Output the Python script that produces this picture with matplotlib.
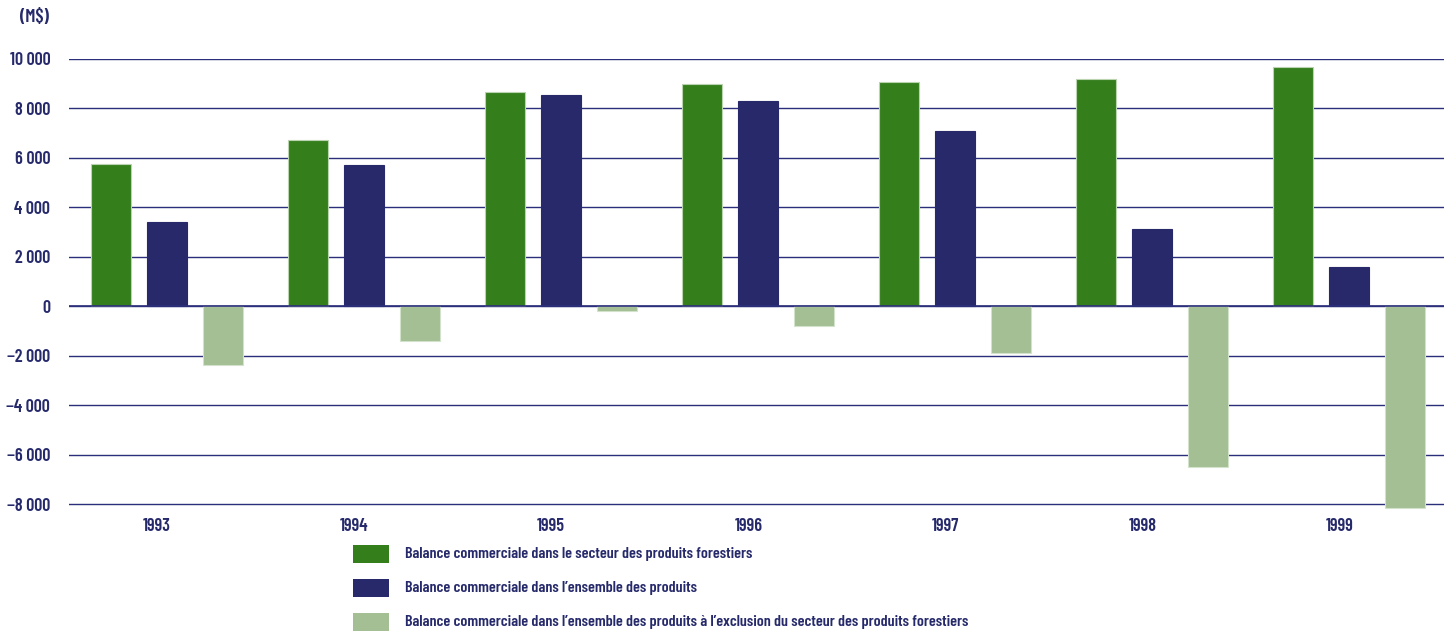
import matplotlib
matplotlib.use("Agg")
import matplotlib.pyplot as plt
from matplotlib.patches import Rectangle
import numpy as np

years = ["1993", "1994", "1995", "1996", "1997", "1998", "1999"]
forest = [5750, 6700, 8650, 8950, 9070, 9170, 9640]
total = [3400, 5700, 8540, 8270, 7060, 3100, 1580]
excl = [-2400, -1400, -200, -800, -1900, -6500, -8150]
series_names = [
    "Balance commerciale dans le secteur des produits forestiers",
    "Balance commerciale dans l\u2019ensemble des produits",
    "Balance commerciale dans l\u2019ensemble des produits \u00e0 l\u2019exclusion du secteur des produits forestiers",
]
yticks = [-8000, -6000, -4000, -2000, 0, 2000, 4000, 6000, 8000, 10000]

colors = ["#347f1c", "#27296b", "#a3bf93"]
edges = ["#b9d4ae", "#27296b", "#d3e3cb"]
txt = "#262a6b"
font = dict(family=["Barlow Condensed", "DejaVu Sans"], fontweight=600)

W, H = 1444, 631
fig = plt.figure(figsize=(W / 100, H / 100), dpi=100)
ax_l, ax_r = 69 / W, 1444 / W
ax_t, ax_b = 58.5, 511.5
ax = fig.add_axes([ax_l, 1 - ax_b / H, ax_r - ax_l, (ax_b - ax_t) / H])

x = np.arange(len(years))
w = 0.203
off = 0.284
for i, vals in enumerate([forest, total, excl]):
    ax.bar(x + (i - 1) * off, vals, width=w, color=colors[i], edgecolor=edges[i],
           linewidth=0.8, zorder=3)

ax.set_xlim(-0.497, 6.48)
ax.set_ylim(-8300, 10000)
ax.set_yticks(yticks)
ax.yaxis.grid(True, color="#2b2e7a", linewidth=1.0, zorder=0)
ax.axhline(0, color="#2b2e7a", linewidth=1.2, zorder=4)
ax.set_yticklabels([f"{v:,}".replace(",", " ").replace("-", "\u2212") for v in yticks],
                   color=txt, fontsize=13, **font)
ax.set_xticks(x - 0.05)
ax.set_xticklabels(years, color=txt, fontsize=13, **font)
ax.tick_params(axis="both", length=0)
ax.tick_params(axis="y", pad=13.5)
ax.tick_params(axis="x", pad=5)
for s in ax.spines.values():
    s.set_visible(False)

fig.text(20 / W, 1 - 18 / H, "(M$)", color=txt, fontsize=13.5, va="center", ha="left", **font)

rows = [554, 588, 622]
for i, (name, yy) in enumerate(zip(series_names, rows)):
    fig.patches.append(Rectangle((353 / W, 1 - (yy + 9) / H), 36 / W, 18 / H,
                                 transform=fig.transFigure, facecolor=colors[i],
                                 edgecolor="none"))
    fig.text(405 / W, 1 - yy / H, name, color=txt, fontsize=11.6, va="center", ha="left", **font)

fig.savefig("out.png", dpi=100)
